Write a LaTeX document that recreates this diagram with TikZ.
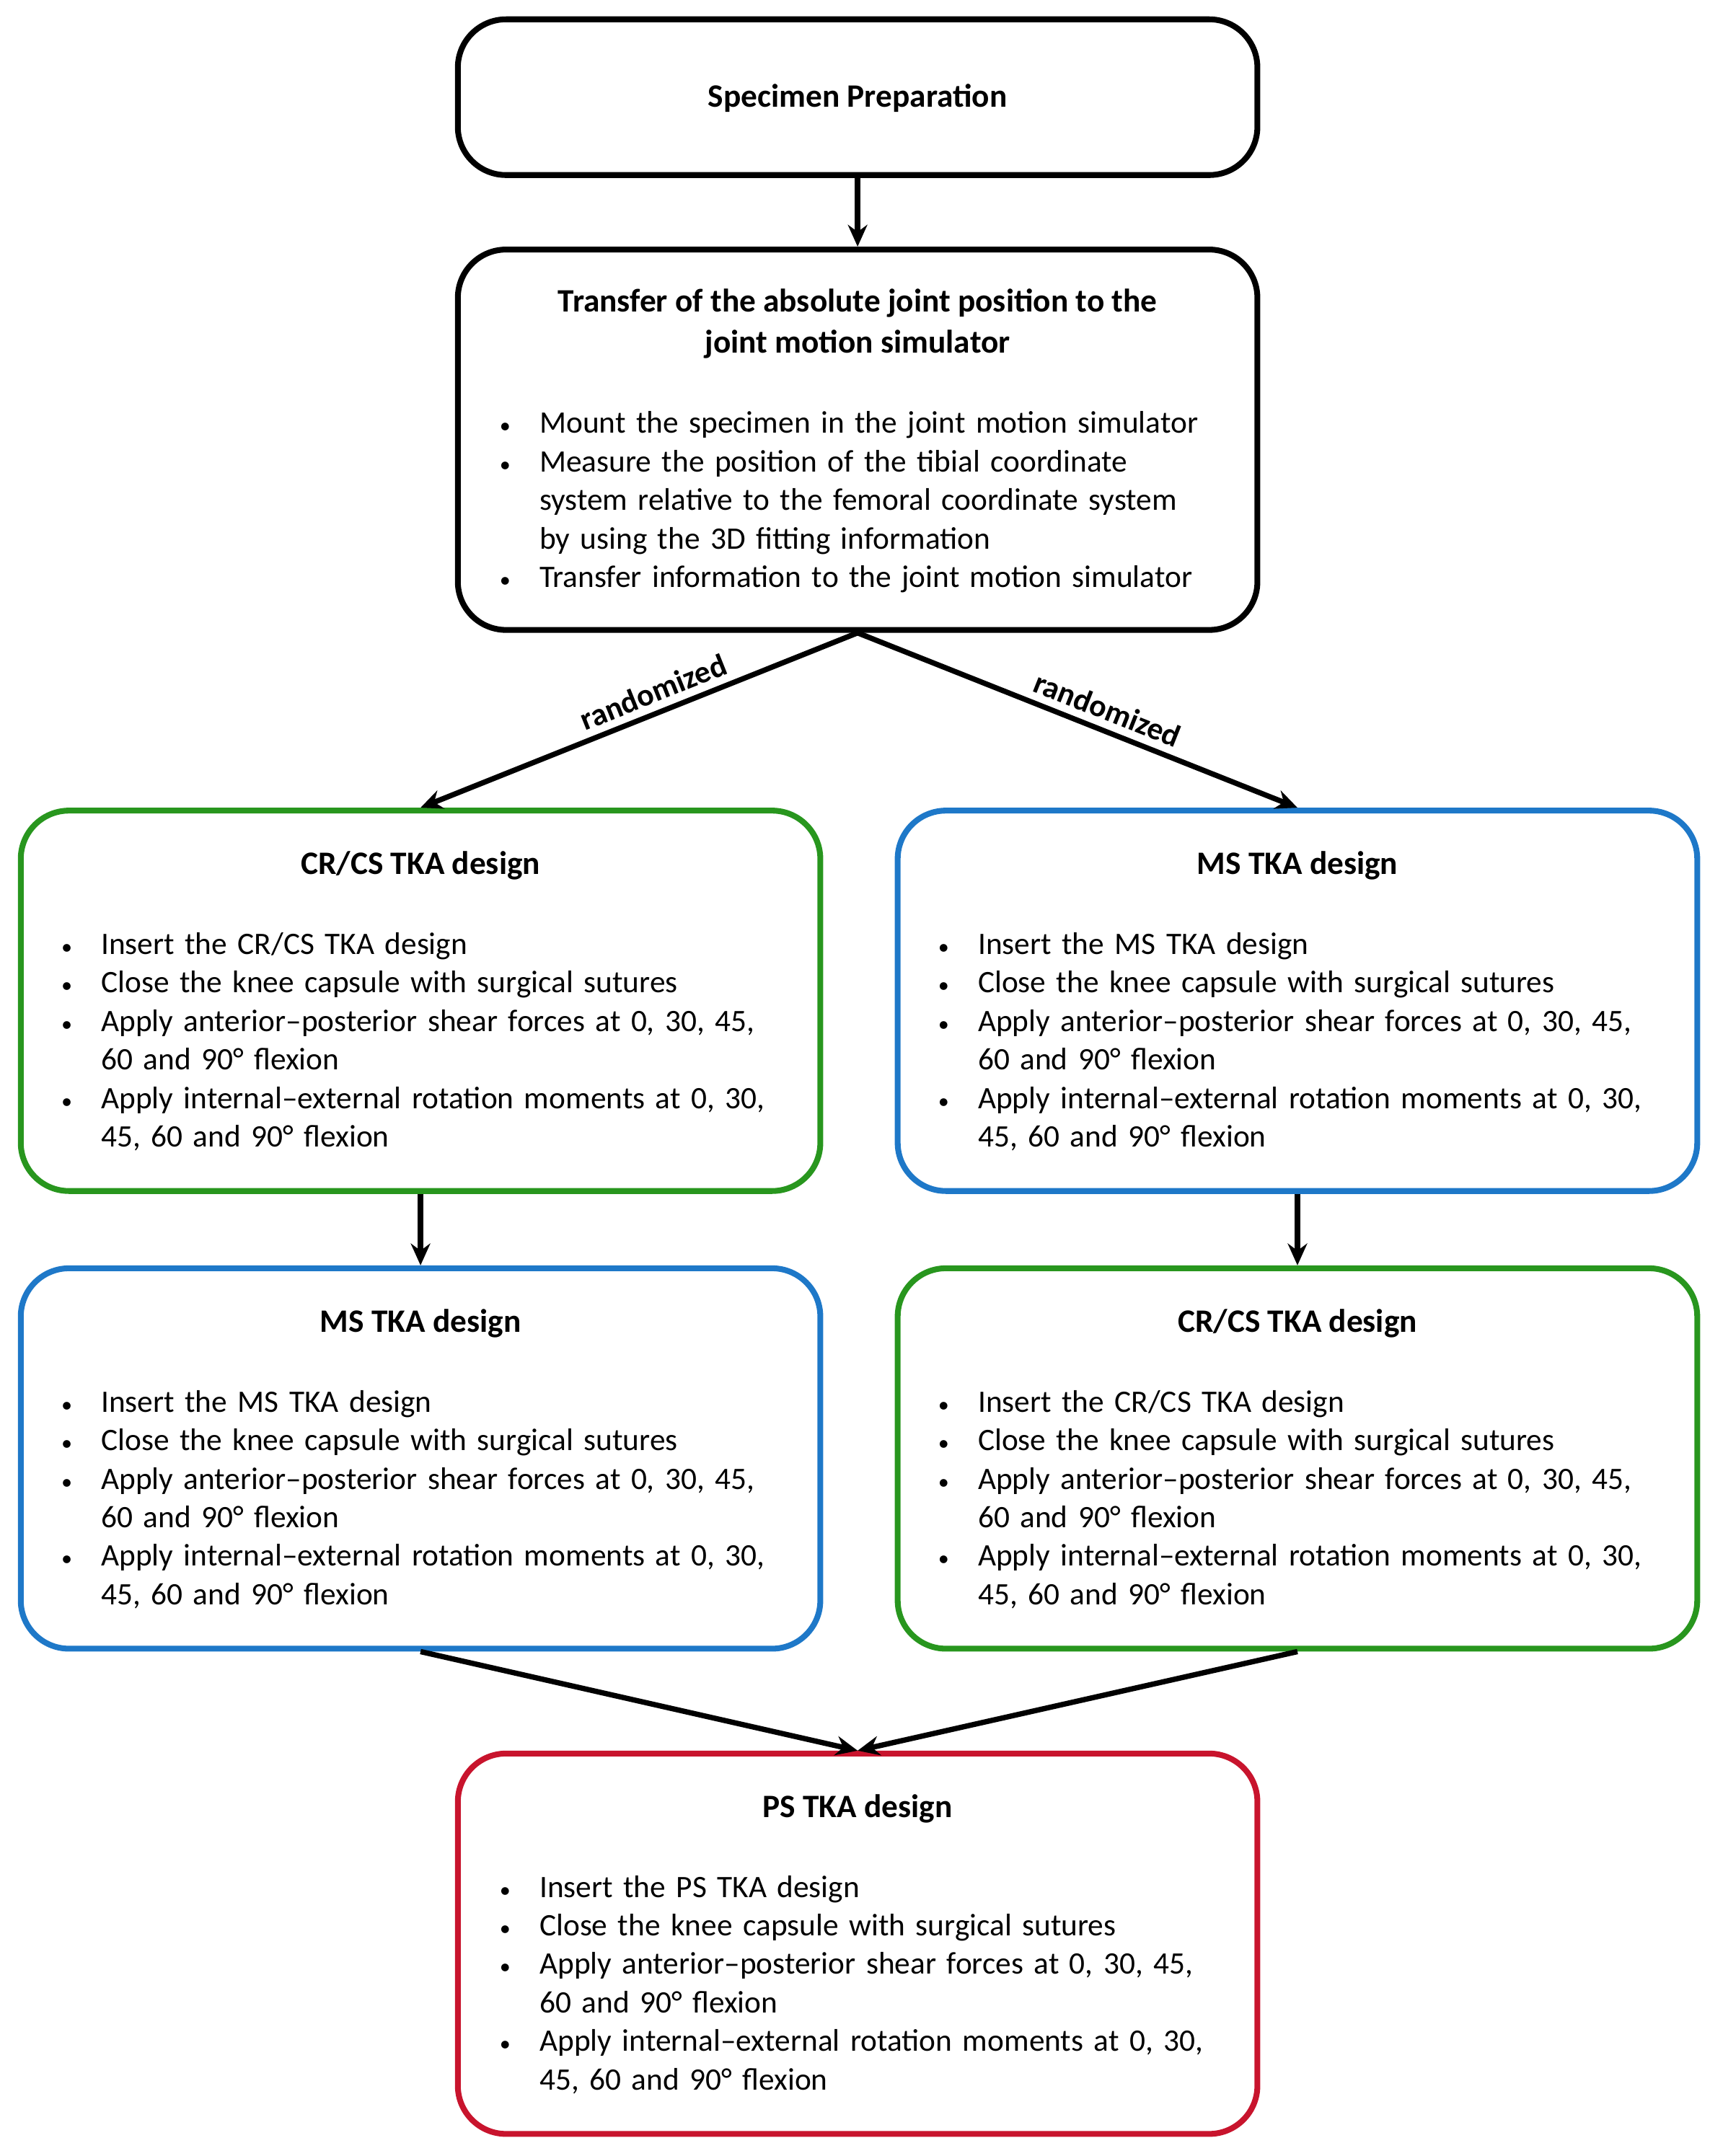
\documentclass[tikz,border=0pt]{standalone}
\usepackage{fontspec}
\setmainfont{Carlito}
\usepackage{enumitem}
\usetikzlibrary{arrows.meta}
\definecolor{cgreen}{RGB}{40,150,30}
\definecolor{cblue}{RGB}{30,120,200}
\definecolor{cred}{RGB}{200,20,45}
\newcommand{\blist}[1]{\begin{itemize}[nosep,leftmargin=0.6cm,labelsep=0.42cm,label={\small\textbullet}]#1\end{itemize}}
\begin{document}
\begin{tikzpicture}[x=0.02cm,y=-0.02cm,
  box/.style={draw,line width=2.4pt,rounded corners=0.7cm,minimum width=11.6cm,minimum height=5.52cm,inner sep=0},
  ttl/.style={font=\fontsize{13.5}{17}\selectfont\bfseries,align=center,inner sep=0},
  lst/.style={anchor=north west,text width=11cm,inner sep=0,font=\fontsize{12.9}{15.9}\selectfont},
  arr/.style={line width=2.2pt,-{Stealth[length=9pt,width=8pt]}},
  lab/.style={font=\fontsize{13}{15}\selectfont\bfseries,inner sep=3pt}]
\useasboundingbox (0,0) rectangle (1240,1564);
\node[box,minimum height=2.26cm] (sp) at (622,70.5) {};
\node[ttl] (spt) at (622,71) {Specimen Preparation};
\node[box] (tr) at (622,319) {};
\node[ttl] (trt) at (622,235) {Transfer of the absolute joint position to the\\joint motion simulator};
\node[lst] (trl) at (361,286) {\blist{\item Mount the specimen in the joint motion simulator
\item Measure the position of the tibial coordinate\newline system relative to the femoral coordinate system\newline by using the 3D fitting information
\item Transfer information to the joint motion simulator}};

\node[box,draw=cgreen] (a1) at (305,726) {};
\node[ttl] (a1t) at (305,628) {CR/CS TKA design};
\node[lst] (a1l) at (43,664) {\blist{\item Insert the CR/CS TKA design
\item Close the knee capsule with surgical sutures
\item Apply anterior–posterior shear forces at 0, 30, 45,\newline 60 and 90° flexion
\item Apply internal–external rotation moments at 0, 30,\newline 45, 60 and 90° flexion}};

\node[box,draw=cblue] (b1) at (941,726) {};
\node[ttl] (b1t) at (941,628) {MS TKA design};
\node[lst] (b1l) at (679,664) {\blist{\item Insert the MS TKA design
\item Close the knee capsule with surgical sutures
\item Apply anterior–posterior shear forces at 0, 30, 45,\newline 60 and 90° flexion
\item Apply internal–external rotation moments at 0, 30,\newline 45, 60 and 90° flexion}};

\node[box,draw=cblue] (a2) at (305,1058) {};
\node[ttl] (a2t) at (305,960) {MS TKA design};
\node[lst] (a2l) at (43,996) {\blist{\item Insert the MS TKA design
\item Close the knee capsule with surgical sutures
\item Apply anterior–posterior shear forces at 0, 30, 45,\newline 60 and 90° flexion
\item Apply internal–external rotation moments at 0, 30,\newline 45, 60 and 90° flexion}};

\node[box,draw=cgreen] (b2) at (941,1058) {};
\node[ttl] (b2t) at (941,960) {CR/CS TKA design};
\node[lst] (b2l) at (679,996) {\blist{\item Insert the CR/CS TKA design
\item Close the knee capsule with surgical sutures
\item Apply anterior–posterior shear forces at 0, 30, 45,\newline 60 and 90° flexion
\item Apply internal–external rotation moments at 0, 30,\newline 45, 60 and 90° flexion}};

\node[box,draw=cred] (ps) at (622,1410) {};
\node[ttl] (pst) at (622,1312) {PS TKA design};
\node[lst] (psl) at (361,1348) {\blist{\item Insert the PS TKA design
\item Close the knee capsule with surgical sutures
\item Apply anterior–posterior shear forces at 0, 30, 45,\newline 60 and 90° flexion
\item Apply internal–external rotation moments at 0, 30,\newline 45, 60 and 90° flexion}};

\draw[arr] (sp.south) -- (tr.north);
\draw[arr] (tr.south) -- node[lab,above,sloped,pos=0.45] {randomized} (a1.north);
\draw[arr] (tr.south) -- node[lab,above,sloped,pos=0.55] {randomized} (b1.north);
\draw[arr] (a1.south) -- (a2.north);
\draw[arr] (b1.south) -- (b2.north);
\draw[arr] (a2.south) -- (ps.north);
\draw[arr] (b2.south) -- (ps.north);
\end{tikzpicture}
\end{document}
